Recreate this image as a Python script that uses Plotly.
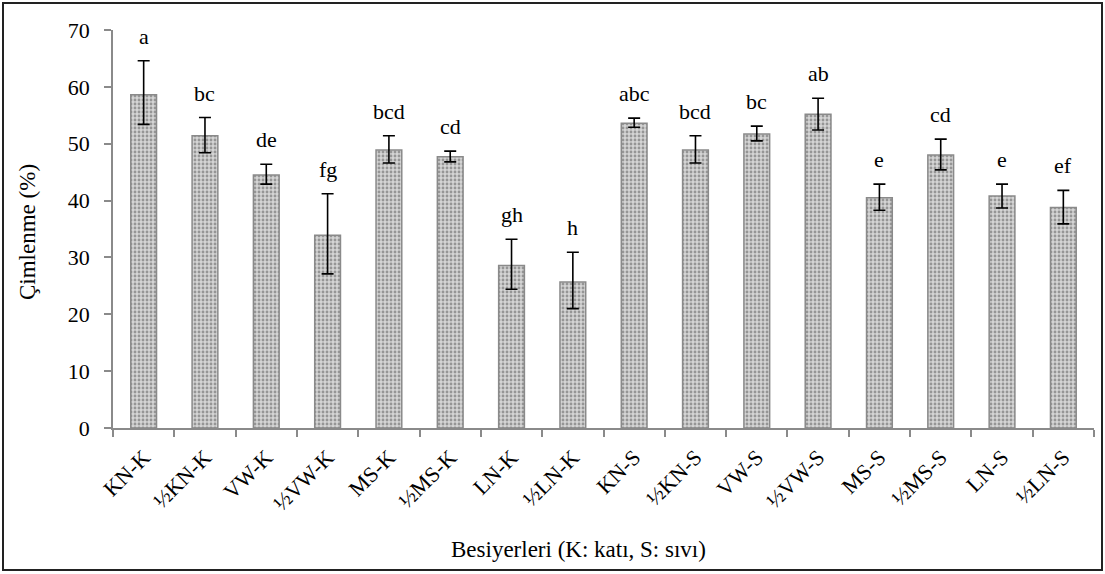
import plotly.graph_objects as go

categories = ["KN-K", "½KN-K", "VW-K", "½VW-K", "MS-K", "½MS-K", "LN-K", "½LN-K",
              "KN-S", "½KN-S", "VW-S", "½VW-S", "MS-S", "½MS-S", "LN-S", "½LN-S"]
means = [58.6, 51.4, 44.5, 33.9, 48.9, 47.7, 28.6, 25.7,
         53.6, 48.9, 51.7, 55.2, 40.5, 48.0, 40.8, 38.8]
err_plus = [6.0, 3.2, 1.9, 7.3, 2.5, 1.0, 4.6, 5.2,
            0.9, 2.5, 1.4, 2.8, 2.4, 2.8, 2.1, 3.0]
err_minus = [5.2, 3.0, 1.6, 6.8, 2.3, 0.9, 4.2, 4.7,
             0.7, 2.3, 1.2, 2.8, 2.2, 2.6, 2.1, 2.9]
letters = ["a", "bc", "de", "fg", "bcd", "cd", "gh", "h",
           "abc", "bcd", "bc", "ab", "e", "cd", "e", "ef"]
x_title = "Besiyerleri (K: katı, S: sıvı)"
y_title = "Çimlenme (%)"

FONT = "Liberation Serif, Times New Roman, serif"

fig = go.Figure()
fig.add_trace(go.Bar(
    x=categories, y=means, width=0.42,
    marker=dict(
        color="#c8c8c8",
        line=dict(color="#8a8a8a", width=1.5),
        pattern=dict(shape=".", fgcolor="#555555", bgcolor="#d4d4d4", size=4, solidity=0.4),
    ),
    error_y=dict(type="data", array=err_plus, arrayminus=err_minus, symmetric=False,
                 color="black", thickness=1.6, width=6),
    showlegend=False,
))

for c, m, e, t in zip(categories, means, err_plus, letters):
    fig.add_annotation(x=c, y=m + e, text=t, showarrow=False, yanchor="bottom",
                       yshift=10, font=dict(family=FONT, size=22, color="black"))

W, H = 1105, 574
l, r, t, b = 113, 11, 30, 146
pw, ph = W - l - r, H - t - b
def px(x):
    return (x - l) / pw
def py(y):
    return (H - b - y) / ph

# axis titles
fig.add_annotation(xref="paper", yref="paper", x=px(578), y=py(549), text=x_title,
                   showarrow=False, xanchor="center", yanchor="middle",
                   font=dict(family=FONT, size=23, color="black"))
fig.add_annotation(xref="paper", yref="paper", x=px(27), y=py(232), text=y_title,
                   showarrow=False, xanchor="center", yanchor="middle", textangle=-90,
                   font=dict(family=FONT, size=23, color="black"))

# outer frame
fig.add_shape(type="rect", xref="paper", yref="paper",
              x0=px(3), x1=px(1102), y0=py(570), y1=py(3),
              line=dict(color="#222222", width=2), layer="below")

fig.update_layout(
    width=W, height=H,
    margin=dict(l=l, r=r, t=t, b=b, autoexpand=False),
    plot_bgcolor="white", paper_bgcolor="white",
    font=dict(family=FONT, color="black"),
)
fig.update_xaxes(
    type="category", tickangle=-45, tickfont=dict(family=FONT, size=22, color="black"),
    showline=True, linecolor="#8a8a8a", linewidth=1.5, automargin=False,
    ticks="outside", tickson="boundaries", ticklen=7, tickcolor="#8a8a8a", tickwidth=1.5,
    showgrid=False, ticklabelstandoff=6,
)
fig.update_yaxes(
    range=[0, 70], dtick=10, tickfont=dict(family=FONT, size=22, color="black"),
    showline=True, linecolor="#8a8a8a", linewidth=1.5, automargin=False,
    ticks="outside", ticklen=7, tickcolor="#8a8a8a", tickwidth=1.5,
    showgrid=False, zeroline=False, ticklabelstandoff=10,
)

fig.write_html("out.html")
